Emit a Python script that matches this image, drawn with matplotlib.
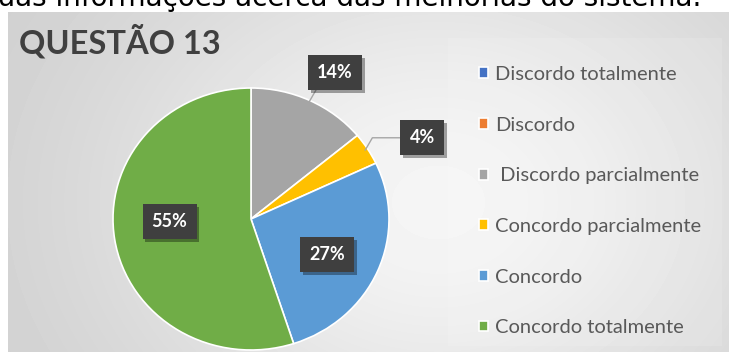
import numpy as np
import matplotlib.pyplot as plt
from matplotlib import patheffects as pe
from matplotlib.patches import Rectangle

# ── DATA ────────────────────────────────────────────────────
categories = ['Discordo totalmente', 'Discordo', ' Discordo parcialmente',
              'Concordo parcialmente', 'Concordo', 'Concordo totalmente']
values = [0, 0, 14, 4, 27, 55]
colors = ['#4472C4', '#ED7D31', '#A5A5A5', '#FFC000', '#5B9BD5', '#70AD47']
title = 'QUESTÃO 13'
header = 'suas informações acerca das melhorias do sistema.'

W, H = 729, 352
fig = plt.figure(figsize=(W / 100, H / 100), dpi=100)
fig.patch.set_facecolor('white')


def px(x0, y0, x1, y1):
    # pixel box (top-left origin) -> figure fraction rect
    return [x0 / W, 1 - y1 / H, (x1 - x0) / W, (y1 - y0) / H]


# ── BACKGROUND (grey gradient frame) ────────────────────────
bg = fig.add_axes(px(8, 12, W, H))
yy, xx = np.mgrid[0:340, 0:721]
glow = np.exp(-(((xx - 430) / 340.0) ** 2 + ((yy - 190) / 270.0) ** 2))
shade = 0.80 + 0.16 * glow
bg.imshow(shade, cmap='gray', vmin=0, vmax=1, aspect='auto',
          extent=(0, 721, 340, 0), interpolation='bilinear')
bg.add_patch(Rectangle((440, 26), 274, 308, facecolor='white', alpha=0.12,
                       edgecolor='none'))
bg.set_xlim(0, 721)
bg.set_ylim(340, 0)
bg.axis('off')

fig.text(701 / W, 1 - 6 / H, header, ha='right', va='baseline',
         fontsize=20, color='black', family='DejaVu Sans', zorder=0)
fig.text(19 / W, 1 - 53 / H, title, ha='left', va='baseline',
         fontsize=23.5, color='#404040', family='Lato', fontweight='bold')

# ── PIE ─────────────────────────────────────────────────────
ax = fig.add_axes(px(113, 88, 389, 350))
wedges, _ = ax.pie(values, colors=colors, startangle=90, counterclock=False,
                   radius=1.0, wedgeprops=dict(edgecolor='white', linewidth=1.2))
ax.set_aspect('auto')
ax.set_xlim(-1, 1)
ax.set_ylim(-1, 1)
ax.axis('off')

# mid angle of each wedge
mids = [np.deg2rad((w.theta1 + w.theta2) / 2) for w in wedges]

box = dict(boxstyle='square,pad=0.5', facecolor='#3f3f3f', edgecolor='none')
shadow = [pe.withSimplePatchShadow(offset=(2, -2), shadow_rgbFace='black', alpha=0.35)]

# outside labels (small slices) with leader lines, inside labels otherwise
outside = {2: (0.61, 1.12), 3: (1.24, 0.62)}
inside = {4: (0.55, -0.27), 5: (-0.59, -0.02)}
for i, v in enumerate(values):
    if v == 0:
        continue
    a = mids[i]
    lbl = f'{v}%'
    if i in outside:
        tx, ty = outside[i]
        t = ax.annotate(lbl, xy=(np.cos(a) * 0.98, np.sin(a) * 0.98), xytext=(tx, ty),
                        ha='center', va='center', fontsize=13, fontweight='bold',
                        color='white', family='Lato', bbox=box, annotation_clip=False,
                        arrowprops=dict(arrowstyle='-', color='#a6a6a6', lw=1,
                                        shrinkA=0, shrinkB=0,
                                        connectionstyle='angle,angleA=0,angleB=60,rad=0'))
    else:
        tx, ty = inside[i]
        t = ax.text(tx, ty, lbl, ha='center', va='center',
                    fontsize=13, fontweight='bold', color='white', family='Lato',
                    bbox=box)
    t.get_bbox_patch().set_path_effects(shadow)

# ── LEGEND ──────────────────────────────────────────────────
fig.legend(wedges, categories, loc='upper left', bbox_to_anchor=(471 / W, 1 - 58 / H),
           frameon=False, prop=dict(family='Lato', size=14.5), labelcolor='#595959',
           handlelength=0.45, handleheight=0.45, handletextpad=0.35,
           labelspacing=1.67, borderaxespad=0)

fig.savefig('out.png', dpi=100)
